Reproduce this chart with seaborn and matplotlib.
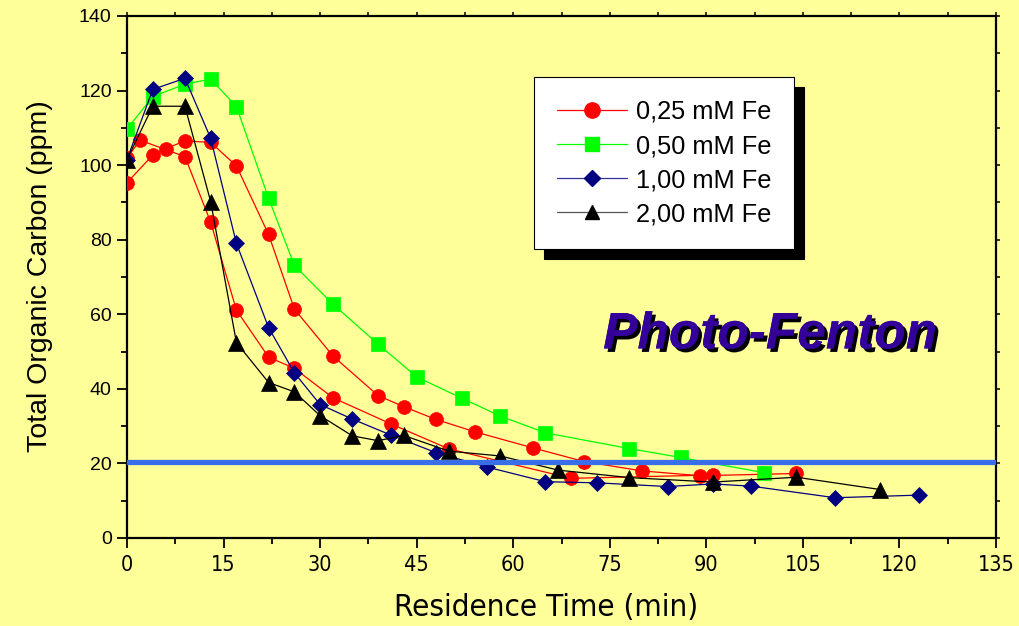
import numpy as np
import pandas as pd
import matplotlib
matplotlib.use("Agg")
import matplotlib.pyplot as plt
import matplotlib.patheffects as pe
from matplotlib.lines import Line2D
from matplotlib.ticker import MultipleLocator
from matplotlib import font_manager
import seaborn as sns

# ---- data ----
red_a_x = [0, 4, 6, 9, 13, 17, 22, 26, 32, 39, 43, 48, 54, 63, 71, 80, 89, 104]
red_a_y = [95.3, 102.7, 104.4, 106.5, 106.1, 99.8, 81.4, 61.4, 48.8, 38.2, 35.2, 31.8, 28.5, 24.2, 20.5, 18.0, 16.7, 17.3]
red_b_x = [0, 2, 9, 13, 17, 22, 26, 32, 41, 50, 69, 91]
red_b_y = [101.8, 106.7, 102.3, 84.7, 61.1, 48.5, 45.5, 37.6, 30.6, 23.9, 16.0, 16.9]
green_x = [0, 4, 9, 13, 17, 22, 26, 32, 39, 45, 52, 58, 65, 78, 86, 99]
green_y = [109.7, 118.4, 121.7, 123.1, 115.7, 91.1, 73.1, 62.7, 52.0, 43.2, 37.5, 32.7, 28.2, 24.0, 21.6, 17.5]
blue_x = [0, 4, 9, 13, 17, 22, 26, 30, 35, 41, 48, 56, 65, 73, 84, 91, 97, 110, 123]
blue_y = [101.5, 120.3, 123.3, 107.2, 79.0, 56.4, 44.3, 35.8, 31.9, 27.6, 22.9, 19.0, 15.1, 14.8, 13.8, 14.5, 13.9, 10.8, 11.5]
black_x = [0, 4, 9, 13, 17, 22, 26, 30, 35, 39, 43, 50, 58, 67, 78, 91, 104, 117]
black_y = [101.5, 115.8, 115.8, 90.2, 52.4, 41.7, 39.2, 32.8, 27.4, 26.1, 27.5, 23.3, 22.0, 18.2, 16.2, 15.0, 16.3, 13.0]
threshold = 20.5
labels = ["0,25 mM Fe", "0,50 mM Fe", "1,00 mM Fe", "2,00 mM Fe"]
x_ticks = list(range(0, 136, 15))
y_ticks = list(range(0, 141, 20))

BG = "#FFFF99"
sns.set_theme(style="white")
plt.rcParams["font.family"] = ["Liberation Sans", "DejaVu Sans"]
plt.rcParams.update({"text.color": "black", "axes.labelcolor": "black",
                     "xtick.color": "black", "ytick.color": "black"})

# pick a narrow font if one is installed
narrow_fp = None
for f in font_manager.fontManager.ttflist:
    if f.name == "Liberation Sans Narrow" and f.weight in (400, "normal", "regular") and f.style == "normal":
        narrow_fp = f.fname
        break
if narrow_fp is None:
    for f in font_manager.fontManager.ttflist:
        if f.name == "DejaVu Sans" and "Condensed" in f.fname and "Bold" not in f.fname and "Oblique" not in f.fname:
            narrow_fp = f.fname
            break

def narrow(size):
    if narrow_fp:
        return font_manager.FontProperties(fname=narrow_fp, size=size)
    return font_manager.FontProperties(family="Liberation Sans", size=size, stretch="condensed")

fig = plt.figure(figsize=(10.2, 6.26), dpi=100, facecolor=BG)
ax = fig.add_axes([127/1020, 1-538/626, (996-127)/1020, (538-16)/626])
ax.set_facecolor(BG)

series = [
    (red_a_x, red_a_y, "#FF0000", "o", 10),
    (red_b_x, red_b_y, "#FF0000", "o", 10),
    (green_x, green_y, "#00FF00", "s", 9.5),
    (blue_x, blue_y, "#000080", "D", 8.5),
    (black_x, black_y, "#000000", "^", 11),
]
for i, (xs, ys, c, mk, ms) in enumerate(series):
    df = pd.DataFrame({"x": xs, "y": ys})
    sns.lineplot(data=df, x="x", y="y", ax=ax, sort=False, estimator=None,
                 color=c, lw=0.9, marker=mk, markersize=ms,
                 markerfacecolor=c, markeredgecolor=c, markeredgewidth=0.5,
                 zorder=3 + i)

ax.axhline(threshold, color="#3A6EE8", lw=3.8, zorder=10)

ax.set_xlim(0, 135)
ax.set_ylim(0, 140)
ax.set_xticks(x_ticks)
ax.set_yticks(y_ticks)
ax.xaxis.set_minor_locator(MultipleLocator(7.5))
ax.yaxis.set_minor_locator(MultipleLocator(10))
ax.tick_params(axis="both", which="major", direction="out", length=7, width=1.3,
               color="black", labelcolor="black", bottom=True, left=True)
ax.tick_params(axis="both", which="minor", direction="out", length=4, width=1.3,
               color="black", bottom=True, left=True)
ax.tick_params(axis="y", labelsize=14, pad=4)
ax.tick_params(axis="x", pad=5)
for t in ax.get_xticklabels():
    t.set_fontproperties(narrow(15.5))
for s in ax.spines.values():
    s.set_color("black")
    s.set_linewidth(1.6)

# top and right small ticks
top = ax.secondary_xaxis("top")
top.set_xticks(np.arange(0, 136, 7.5))
top.set_xticklabels([])
top.tick_params(direction="out", length=3, width=1.1, color="black")
top.spines["top"].set_visible(False)
right = ax.secondary_yaxis("right")
right.set_yticks(np.arange(0, 141, 10))
right.set_yticklabels([])
right.tick_params(direction="out", length=3, width=1.1, color="black")
right.spines["right"].set_visible(False)

ax.set_xlabel("")
ax.set_ylabel("")
fig.text(546/1020, 1-607/626, "Residence Time (min)", ha="center", va="center",
         fontproperties=narrow(22.5), color="black")
fig.text(40/1020, 1-276/626, "Total Organic Carbon (ppm)", ha="center", va="center",
         rotation=90, fontsize=20.5, color="black")

# Photo-Fenton text with shadow
ax.text(0.74, 0.389, "Photo-Fenton", transform=ax.transAxes, ha="center", va="center",
        fontsize=37, fontweight="bold", fontstyle="italic", color="#330099",
        path_effects=[pe.withSimplePatchShadow(offset=(2.5, -2.5), shadow_rgbFace="black", alpha=1),
                      pe.Normal()], zorder=12)

handles = [
    Line2D([], [], color="#FF0000", lw=0.9, marker="o", markersize=11, markerfacecolor="#FF0000", markeredgecolor="#FF0000"),
    Line2D([], [], color="#00FF00", lw=0.9, marker="s", markersize=9.5, markerfacecolor="#00FF00", markeredgecolor="#00FF00"),
    Line2D([], [], color="#333399", lw=0.9, marker="D", markersize=8.5, markerfacecolor="#000080", markeredgecolor="#000080"),
    Line2D([], [], color="#555555", lw=0.9, marker="^", markersize=10.5, markerfacecolor="#000000", markeredgecolor="#000000"),
]
leg = ax.legend(handles, labels, loc="upper left",
                bbox_to_anchor=(534/1020, 1-77/626), bbox_transform=fig.transFigure,
                fontsize=18.3, frameon=True, fancybox=False, framealpha=1,
                edgecolor="black", facecolor="white", handlelength=2.75,
                handletextpad=0.35, labelspacing=0.4, borderpad=0.9,
                borderaxespad=0,
                shadow={"ox": 7, "oy": -7, "color": "black", "alpha": 1})
leg.get_frame().set_linewidth(0.8)
for t in leg.get_texts():
    t.set_color("black")
leg.set_zorder(20)

fig.savefig("out.png", dpi=100, facecolor=BG)
